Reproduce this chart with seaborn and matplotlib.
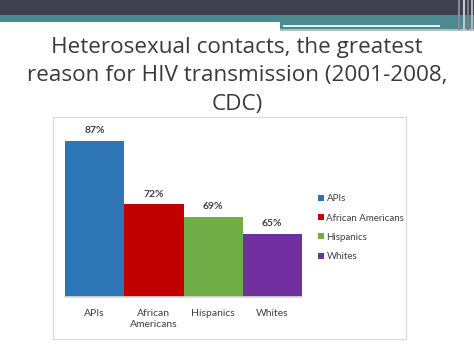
import matplotlib
matplotlib.use("Agg")
import matplotlib.pyplot as plt
import matplotlib.patches as mpatches
import pandas as pd
import seaborn as sns

# chart data
groups = ["APIs", "African Americans", "Hispanics", "Whites"]
tick_labels = ["APIs", "African\nAmericans", "Hispanics", "Whites"]
percent = [87, 72, 69, 65]
bar_colors = ["#2e75b6", "#c00000", "#70ad47", "#7030a0"]

title = "Heterosexual contacts, the greatest\nreason for HIV transmission (2001-2008,\nCDC)"

W, H = 474, 355


def fig_rect(fig, x0, y0, x1, y1, color, z=-5):
    # rectangle given in pixel coords from top-left
    fig.patches.append(mpatches.Rectangle(
        (x0 / W, 1 - y1 / H), (x1 - x0) / W, (y1 - y0) / H,
        transform=fig.transFigure, facecolor=color, edgecolor="none", zorder=z))


def main():
    sns.set_theme(style="white")
    plt.rcParams['font.family'] = ['Lato', 'DejaVu Sans']

    df = pd.DataFrame({"group": groups, "percent": percent})

    fig = plt.figure(figsize=(W / 100, H / 100), dpi=100)
    fig.patch.set_facecolor("white")

    # slide header decoration
    fig_rect(fig, 0, 0, W, 16, "#41404f")
    fig_rect(fig, 0, 15, W, 22, "#4b8a8e")
    fig_rect(fig, 280, 22, W, 29, "#4b8a8e")
    fig_rect(fig, 283, 25, 440, 26.5, "#e8f2f2", z=-4)
    fig_rect(fig, 280, 29, W, 31, "#a9c3c4")
    for xs, c in [(458, "#8a8a96"), (463, "#c9c9d0"), (467, "#7d7d8a"), (471, "#b5b5bd")]:
        fig_rect(fig, xs, 0, xs + 2, 30, c, z=-4)

    # chart panel border
    fig.patches.append(mpatches.Rectangle(
        (53 / W, 1 - 339 / H), (406 - 53) / W, (339 - 117) / H,
        transform=fig.transFigure, facecolor="white", edgecolor="#d9d9d9",
        lw=0.8, zorder=-5))

    fig.text(0.5, 1 - 76 / H, title, ha="center", va="center", fontsize=16.2,
             color="#3a3a3a", linespacing=1.45, family=['Open Sans', 'DejaVu Sans'])

    ax = fig.add_axes([65 / W, 1 - 297 / H, (302 - 65) / W, (297 - 128) / H])
    sns.barplot(data=df, x="group", y="percent", hue="group", order=groups,
                hue_order=groups, palette=bar_colors, width=1.0, dodge=False,
                saturation=1, legend=True, linewidth=0, ax=ax)

    ax.set_ylim(50, 90)
    ax.set_xlim(-0.5, 3.5)
    ax.set_xlabel("")
    ax.set_ylabel("")
    ax.set_yticks([])
    ax.set_xticks(range(len(groups)))
    ax.set_xticklabels(tick_labels, fontsize=7.5, color="#404040")
    ax.tick_params(axis="x", length=0, pad=9)
    for s in ["top", "right", "left"]:
        ax.spines[s].set_visible(False)
    ax.spines["bottom"].set_color("#d9d9d9")
    ax.patch.set_alpha(0)

    for i, v in enumerate(percent):
        ax.text(i, v + 1.3, f"{v}%", ha="center", va="bottom", fontsize=7.5,
                fontweight="bold", color="#404040", clip_on=False)

    leg = ax.legend(loc="center left", bbox_to_anchor=(1.05, 0.41), frameon=False,
                    fontsize=7, handlelength=0.6, handleheight=0.6,
                    handletextpad=0.3, labelspacing=1.05, borderaxespad=0)
    for t in leg.get_texts():
        t.set_color("#404040")

    plt.savefig("out.png", dpi=100)


if __name__ == "__main__":
    main()
